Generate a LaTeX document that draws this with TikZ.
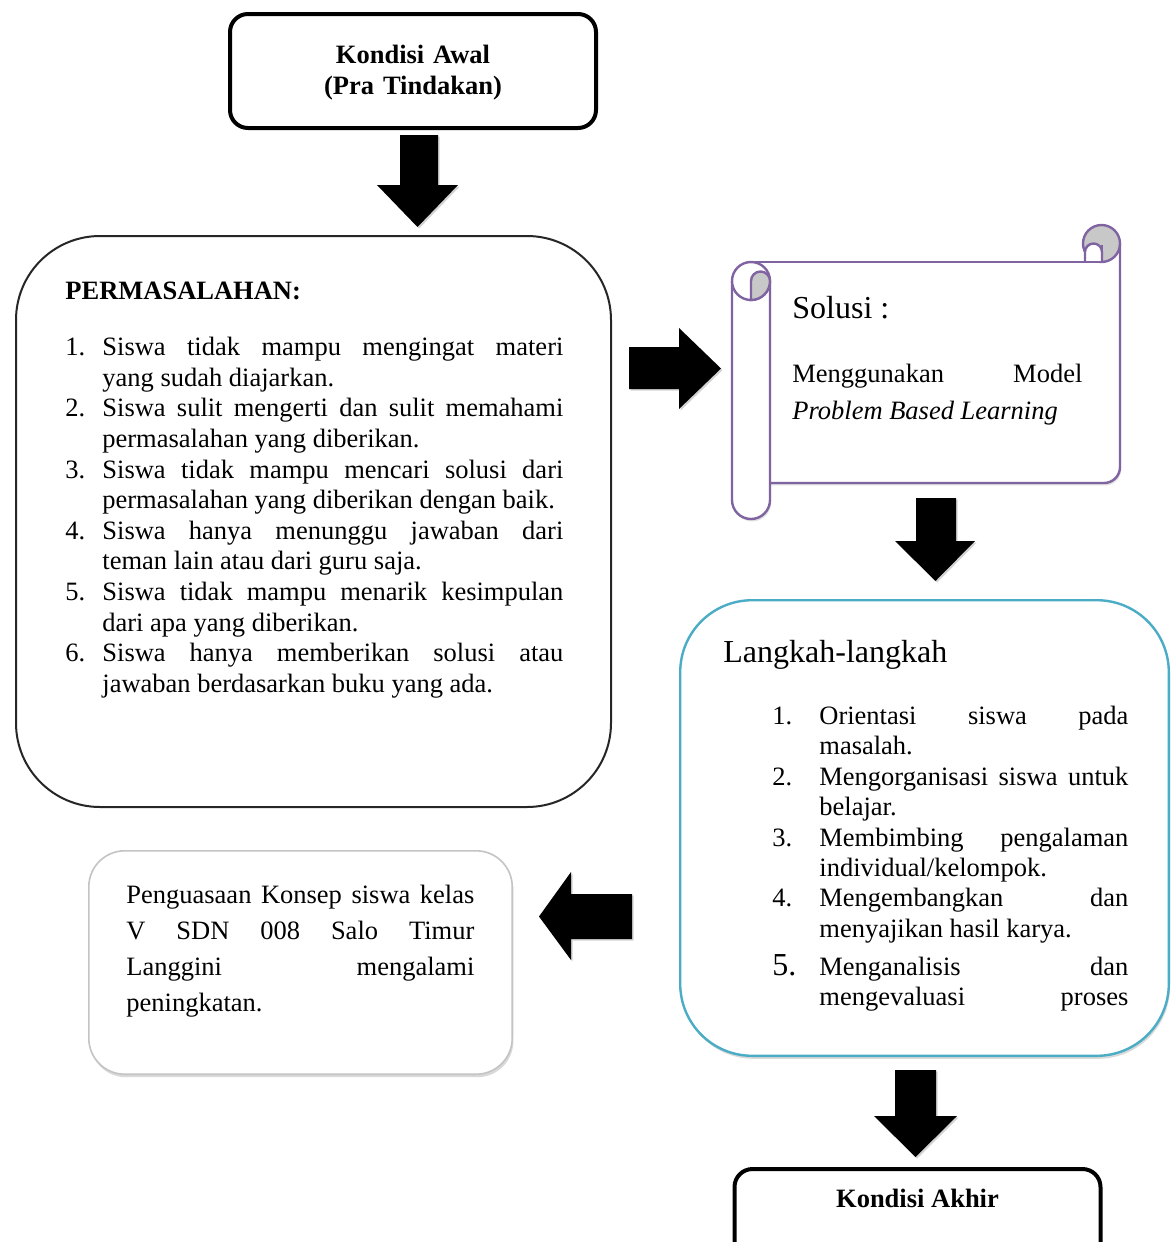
\documentclass[tikz,border=0pt]{standalone}
\usepackage{fontspec}
\setmainfont{Liberation Serif}
\usepackage{enumitem}
\usepackage{xcolor}
\definecolor{scrollline}{HTML}{8064A2}
\definecolor{scrollgray}{HTML}{C8C8C8}
\definecolor{stepline}{HTML}{4BACC6}
\definecolor{resultline}{HTML}{C4C4C4}
\definecolor{problemline}{HTML}{262626}
\usetikzlibrary{shadows}

\begin{document}
\begin{tikzpicture}[x=0.5pt, y=-0.5pt,
    condbox/.style={draw=black, fill=white, line width=2pt, rounded corners=9pt, minimum width=183pt, minimum height=57pt, inner sep=0pt,
      drop shadow={opacity=0.25, shadow xshift=0.6pt, shadow yshift=-0.8pt}},
    bodytext/.style={inner sep=0pt, font=\fontsize{13.25}{15.3}\selectfont},
    headtext/.style={inner sep=0pt, font=\fontsize{16}{18}\selectfont},
    blockarrow/.style={fill=black, drop shadow={opacity=0.35, shadow xshift=0.8pt, shadow yshift=-0.8pt}},
    scrollstroke/.style={draw=scrollline, line width=1.2pt}]
  \useasboundingbox (0,0) rectangle (1171,1242);
  \clip (0,0) rectangle (1171,1242);

  % start
  \node[condbox] (awal) at (413,71) {};
  \node[inner sep=0pt, font=\bfseries\fontsize{13.25}{15.5}\selectfont, text width=180pt, align=center, anchor=base] (awaltext) at (413,63) {Kondisi Awal\\(Pra Tindakan)};
  \path[blockarrow] (400,135) -- (438,135) -- (438,185) -- (458,185) -- (417.5,227) -- (377,185) -- (400,185) -- cycle;

  % problems
  \node[draw=problemline, fill=white, line width=1pt, rounded corners=42pt, minimum width=297.5pt, minimum height=285.5pt] (masalah) at (313.5,521.5) {};
  \node[inner sep=0pt, font=\bfseries\fontsize{13.25}{15.3}\selectfont, anchor=base west] (masalahjudul) at (65,299) {PERMASALAHAN:};
  \node[bodytext, text width=249pt, align=justify, anchor=base west] (masalahlist) at (65,325) {%
    \begin{enumerate}[nosep, leftmargin=18.5pt, labelwidth=18.5pt, labelsep=0pt, align=left]
      \item Siswa tidak mampu mengingat materi\linebreak yang sudah diajarkan.
      \item Siswa sulit mengerti dan sulit memahami\linebreak permasalahan yang diberikan.
      \item Siswa tidak mampu mencari solusi dari\linebreak permasalahan yang diberikan dengan baik.
      \item Siswa hanya menunggu jawaban dari\linebreak teman lain atau dari guru saja.
      \item Siswa tidak mampu menarik kesimpulan\linebreak dari apa yang diberikan.
      \item Siswa hanya memberikan solusi atau\linebreak jawaban berdasarkan buku yang ada.
    \end{enumerate}};
  \path[blockarrow] (629,347) -- (679,347) -- (679,328) -- (721,368.5) -- (679,409) -- (679,389) -- (629,389) -- cycle;

  % solution scroll
  \path[fill=white, rounded corners=8pt, drop shadow={opacity=0.25, shadow xshift=0.6pt, shadow yshift=-1.2pt}] (751,262) -- (1120,262) -- (1120,483) -- (751,483) -- cycle;
  \draw[scrollstroke, fill=scrollgray] (1101.5,243.5) circle (18.5);
  \draw[scrollstroke, fill=white] (1085,262) -- (1085,252) arc[start angle=180, end angle=360, radius=8.5] -- (1102,262);
  \draw[scrollstroke] (1102,252) -- (1102,245);
  \draw[scrollstroke] (751,262) -- (1101.5,262);
  \draw[scrollstroke, rounded corners=8pt] (1120,243.5) -- (1120,483) -- (770,483);
  \draw[scrollstroke, fill=white, drop shadow={opacity=0.25, shadow xshift=0.6pt, shadow yshift=-1.2pt}] (732,281) -- (732,500) arc[start angle=180, end angle=0, radius=19] -- (770,281);
  \draw[scrollstroke, fill=white] (751,281) circle (19);
  \draw[scrollstroke, fill=scrollgray] (751,281) arc[start angle=180, end angle=360, radius=9.5] arc[start angle=0, end angle=90, radius=19] -- cycle;
  \node[headtext, anchor=base west] (solusijudul) at (792,318) {Solusi :};
  \node[inner sep=0pt, font=\fontsize{13.25}{18.5}\selectfont, text width=145pt, align=justify, anchor=base west] (solusitext) at (792,382) {Menggunakan\hfill Model\\\textit{Problem Based Learning}};
  \path[blockarrow] (916,498) -- (956,498) -- (956,541) -- (975,541) -- (935.5,581) -- (895,541) -- (916,541) -- cycle;

  % steps
  \node[draw=stepline, line width=1.2pt, rounded corners=36pt, minimum width=244.3pt, minimum height=227.8pt, fill=white,
    drop shadow={opacity=0.3, shadow xshift=0.6pt, shadow yshift=-1.5pt}] (langkah) at (924.5,828) {};
  \node[headtext, anchor=base west] (langkahjudul) at (723,662) {Langkah-langkah};
  \node[inner sep=0pt, font=\fontsize{13.25}{15.2}\selectfont, text width=178pt, align=justify, anchor=base west] (langkahlist) at (772,694) {%
    \begin{enumerate}[nosep, leftmargin=23.5pt, labelwidth=23.5pt, labelsep=0pt, align=left]
      \item Orientasi siswa pada\linebreak masalah.
      \item Mengorganisasi siswa untuk\linebreak belajar.
      \item Membimbing pengalaman\linebreak individual/kelompok.
      \item Mengembangkan dan\linebreak menyajikan hasil karya.\par
      \vspace{3.8pt}
      \item[\fontsize{16}{16}\selectfont 5.] Menganalisis dan\linebreak mengevaluasi\hfill proses
    \end{enumerate}};
  \path[blockarrow] (632,894) -- (571,894) -- (571,872) -- (539,916.5) -- (571,960) -- (571,939) -- (632,939) -- cycle;

  % result
  \node[draw=resultline, line width=0.8pt, rounded corners=18pt, minimum width=211.7pt, minimum height=111.7pt, fill=white,
    drop shadow={opacity=0.3, shadow xshift=0.6pt, shadow yshift=-1.5pt}] (hasil) at (300.5,962.5) {};
  \node[inner sep=0pt, font=\fontsize{13.25}{18}\selectfont, text width=174pt, align=justify, anchor=base west] (hasiltext) at (126,903) {Penguasaan Konsep siswa kelas\linebreak V SDN 008 Salo Timur\linebreak Langgini mengalami\linebreak peningkatan.};

  % end
  \path[blockarrow] (895,1070) -- (936,1070) -- (936,1116) -- (957,1116) -- (915.5,1157) -- (874,1116) -- (895,1116) -- cycle;
  \node[condbox] (akhir) at (917.5,1226) {};
  \node[inner sep=0pt, font=\bfseries\fontsize{13.25}{15.5}\selectfont, anchor=base] (akhirtext) at (917.5,1207) {Kondisi Akhir};
\end{tikzpicture}
\end{document}
